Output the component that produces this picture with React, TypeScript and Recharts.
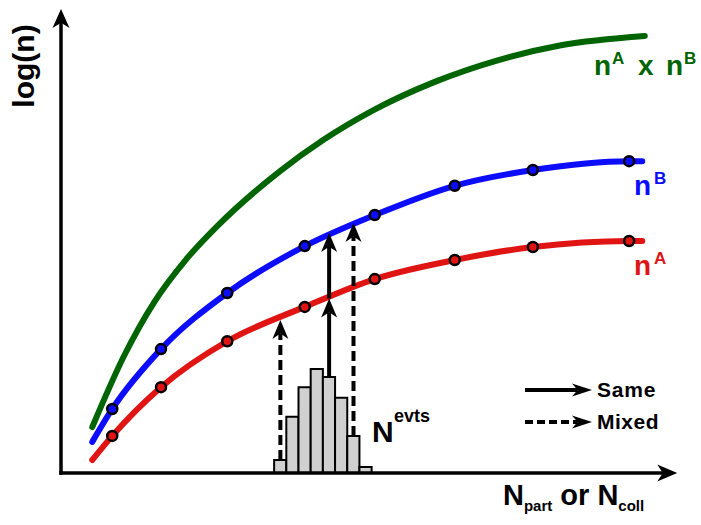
import { ComposedChart, Line, Scatter, XAxis, YAxis, ReferenceLine, ReferenceArea } from 'recharts'

const W = 701
const H = 525
const FONT = '"Liberation Sans", Arial, Helvetica, sans-serif'

const GREEN = '#006400'
const BLUE = '#0c0cff'
const RED = '#e11414'

// schematic units: x and y both run 0..100 over the plot
const productX = [5, 10, 15, 20, 25, 35, 42, 50, 60, 70, 80, 93.4]
const productY = [9.9, 25.0, 37.0, 46.0, 53.2, 65.0, 71.8, 78.2, 84.4, 89.0, 92.2, 94.2]

// sampled points shared by n^A and n^B
const sampleX = [8.2, 16.0, 26.6, 39.0, 50.2, 63.0, 75.5, 90.9]
const nBY = [13.8, 26.7, 38.8, 48.9, 55.6, 61.9, 65.3, 67.2]
const nAY = [8.0, 18.5, 28.4, 35.8, 41.8, 45.9, 48.7, 50.0]
const curveStartX = 5.0
const curveEndX = 93.0
const nBStart = 6.7
const nAStart = 2.8

// N_evts histogram
const binLo = [34.1, 36.05, 38.0, 39.95, 41.9, 43.85, 45.8, 47.75]
const binWidth = 1.95
const binCounts = [2.8, 12.1, 18.5, 22.4, 20.7, 16.2, 8.0, 1.3]

// arrows from histogram to the curves
const arrowX = [35.1, 42.9, 42.9, 46.8]
const arrowFrom = [2.8, 20.7, 37.6, 8.0]
const arrowTo = [33.0, 37.6, 51.7, 53.9]
const arrowDashed = [true, false, false, true]

const xAxisEnd = 98.6

const productData = productX.map((x, i) => ({ x, y: productY[i] }))
const nBData = [
  { x: curveStartX, y: nBStart },
  ...sampleX.map((x, i) => ({ x, y: nBY[i] })),
  { x: curveEndX, y: nBY[nBY.length - 1] },
]
const nAData = [
  { x: curveStartX, y: nAStart },
  ...sampleX.map((x, i) => ({ x, y: nAY[i] })),
  { x: curveEndX, y: nAY[nAY.length - 1] },
]
const nBDots = sampleX.map((x, i) => ({ x, y: nBY[i] }))
const nADots = sampleX.map((x, i) => ({ x, y: nAY[i] }))

function arrowShape(dash: string | undefined, width: number, head: number, half: number, cap = 'butt') {
  return (p: any) => {
    const { x1, y1, x2, y2 } = p
    const dx = x2 - x1
    const dy = y2 - y1
    const len = Math.hypot(dx, dy) || 1
    const ux = dx / len
    const uy = dy / len
    const nx = -uy
    const ny = ux
    const bx = x2 - ux * head
    const by = y2 - uy * head
    const mx = x2 - ux * head * 0.72
    const my = y2 - uy * head * 0.72
    const pts = [
      [x2, y2],
      [bx + nx * half, by + ny * half],
      [mx, my],
      [bx - nx * half, by - ny * half],
    ]
      .map((q) => q.join(','))
      .join(' ')
    return (
      <g>
        <line
          x1={x1}
          y1={y1}
          x2={mx}
          y2={my}
          stroke="#000"
          strokeWidth={width}
          strokeDasharray={dash}
          strokeLinecap={cap as any}
        />
        <polygon points={pts} fill="#000" />
      </g>
    )
  }
}

const dotShape = (fill: string) => (p: any) => (
  <circle cx={p.cx} cy={p.cy} r={5} fill={fill} stroke="#000" strokeWidth={2.5} />
)

function Overlay() {
  const bold = { fontFamily: FONT, fontWeight: 700 }
  return (
    <svg
      width={W}
      height={H}
      style={{ position: 'absolute', left: 0, top: 0, pointerEvents: 'none' }}
    >
      <text transform="translate(34,66) rotate(-90)" textAnchor="middle" fontSize={30} {...bold}>
        log(n)
      </text>
      <text x={503} y={505} fontSize={29} {...bold}>
        N<tspan fontSize={15} dy={6}>part</tspan>
        <tspan dy={-6}> or N</tspan>
        <tspan fontSize={15} dy={6}>coll</tspan>
      </text>

      <g fill={GREEN} {...bold}>
        <text x={594} y={75} fontSize={28}>n</text>
        <text x={612} y={64} fontSize={17}>A</text>
        <text x={638} y={75} fontSize={28}>x</text>
        <text x={666} y={75} fontSize={28}>n</text>
        <text x={684} y={64} fontSize={17}>B</text>
      </g>
      <g fill={BLUE} {...bold}>
        <text x={634} y={195} fontSize={28}>n</text>
        <text x={654} y={184} fontSize={17}>B</text>
      </g>
      <g fill={RED} {...bold}>
        <text x={634} y={275} fontSize={28}>n</text>
        <text x={654} y={264} fontSize={17}>A</text>
      </g>

      <text x={372} y={442} fontSize={30} {...bold}>
        N
      </text>
      <text x={394} y={422} fontSize={18} {...bold}>
        evts
      </text>

      {/* legend */}
      {arrowShape(undefined, 4, 20, 6.5)({ x1: 525, y1: 390, x2: 592, y2: 390 })}
      <text x={597} y={397} fontSize={21} letterSpacing={0.8} {...bold}>
        Same
      </text>
      {arrowShape('8 4', 4, 20, 6.5)({ x1: 525, y1: 422, x2: 592, y2: 422 })}
      <text x={597} y={429} fontSize={21} letterSpacing={0.5} {...bold}>
        Mixed
      </text>
    </svg>
  )
}

export default function App() {
  return (
    <div style={{ position: 'absolute', left: 0, top: 0, width: W, height: H, background: '#fff' }}>
      <ComposedChart width={W} height={H} margin={{ top: 9, right: 15, bottom: 52, left: 61 }}>
        <XAxis type="number" dataKey="x" domain={[0, 100]} hide allowDataOverflow />
        <YAxis type="number" dataKey="y" domain={[0, 100]} hide allowDataOverflow />

        {binLo.map((lo, i) => (
          <ReferenceArea
            key={`bin${i}`}
            x1={lo}
            x2={lo + binWidth}
            y1={0}
            y2={binCounts[i]}
            fill="#d0d0d0"
            fillOpacity={1}
            stroke="#000"
            strokeWidth={2}
            ifOverflow="visible"
          />
        ))}

        <Line
          data={productData}
          dataKey="y"
          type="monotone"
          stroke={GREEN}
          strokeWidth={6}
          strokeLinecap="round"
          dot={false}
          activeDot={false}
          isAnimationActive={false}
        />
        <Line
          data={nBData}
          dataKey="y"
          type="monotone"
          stroke={BLUE}
          strokeWidth={6}
          strokeLinecap="round"
          dot={false}
          activeDot={false}
          isAnimationActive={false}
        />
        <Line
          data={nAData}
          dataKey="y"
          type="monotone"
          stroke={RED}
          strokeWidth={6}
          strokeLinecap="round"
          dot={false}
          activeDot={false}
          isAnimationActive={false}
        />
        <Scatter data={nBDots} dataKey="y" shape={dotShape(BLUE)} isAnimationActive={false} />
        <Scatter data={nADots} dataKey="y" shape={dotShape(RED)} isAnimationActive={false} />

        {arrowX.map((x, i) => (
          <ReferenceLine
            key={`arr${i}`}
            segment={[
              { x, y: arrowFrom[i] },
              { x, y: arrowTo[i] },
            ]}
            ifOverflow="visible"
            shape={arrowShape(arrowDashed[i] ? '10 5' : undefined, 4, 19, 8)}
          />
        ))}

        {/* axes drawn as arrows */}
        <ReferenceLine
          segment={[
            { x: 0, y: 0 },
            { x: xAxisEnd, y: 0 },
          ]}
          ifOverflow="visible"
          shape={arrowShape(undefined, 3.5, 20, 8.5, 'square')}
        />
        <ReferenceLine
          segment={[
            { x: 0, y: 0 },
            { x: 0, y: 100 },
          ]}
          ifOverflow="visible"
          shape={arrowShape(undefined, 3.5, 19, 8.5, 'square')}
        />
      </ComposedChart>
      <Overlay />
    </div>
  )
}
